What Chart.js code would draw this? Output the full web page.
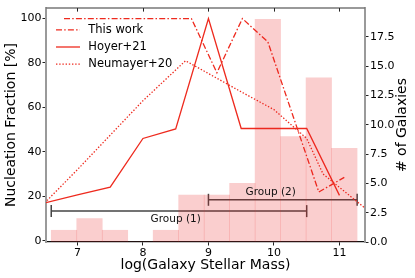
<!DOCTYPE html>
<html>
<head>
<meta charset="utf-8">
<script src="https://cdn.jsdelivr.net/npm/chart.js@4/dist/chart.umd.min.js"></script>
<style>
  html, body { margin: 0; padding: 0; background: #fff; }
</style>
</head>
<body>
<canvas id="chart" width="415" height="278"></canvas>
<script>
// histogram of galaxies (right axis), bins in log stellar mass
const binCenters = [6.795, 7.184, 7.573, 7.962, 8.351, 8.740, 9.129, 9.518, 9.907, 10.296, 10.685, 11.074];
const galaxyCounts = [1, 2, 1, 0, 1, 4, 4, 5, 19, 9, 14, 8];

// nucleation fractions [%]
const thisWork = [100, 100, 100, 100, 100, 100, 75.6, 100, 89.5, 55.7, 21.9, 28.5];

const hoyerMass = [6.5, 7.0, 7.5, 8.0, 8.5, 9.0, 9.5, 10.0, 10.5, 11.0];
const hoyerFrac = [17.0, 20.6, 24.1, 46.0, 50.3, 100, 50.5, 50.5, 50.5, 20.4];

const neumayerMass = [6.5, 7.0, 7.5, 8.0, 8.65, 9.5, 10.0, 10.5, 10.75, 11.5];
const neumayerFrac = [17, 32, 47.5, 63, 81, 67, 59, 46, 30, 12];

// mass ranges of the two groups
const groupNames = ['Group (1)', 'Group (2)'];
const groupLo = [6.6, 9.0];
const groupHi = [10.5, 11.27];
const groupLevel = [13.3, 18.4];
const groupLabelMass = [8.5, 9.95];

const massTicks = [7, 8, 9, 10, 11];
const fracTicks = [0, 20, 40, 60, 80, 100];
const countTicks = [0, 2.5, 5, 7.5, 10, 12.5, 15, 17.5];

const FONT = 'DejaVu Sans';
const red = '#ee2a1e';
const pts = (xs, ys) => xs.map((x, i) => ({ x: x, y: ys[i] }));

const lineSets = [
  { label: 'This work', data: pts(binCenters, thisWork), dash: [6, 2.2, 1.5, 2.2] },
  { label: 'Hoyer+21', data: pts(hoyerMass, hoyerFrac), dash: [] },
  { label: 'Neumayer+20', data: pts(neumayerMass, neumayerFrac), dash: [1.4, 1.8] },
];

const datasets = [{
  type: 'bar',
  label: '# of Galaxies',
  data: pts(binCenters, galaxyCounts),
  yAxisID: 'y2',
  backgroundColor: 'rgba(230,30,30,0.22)',
  borderWidth: 0,
  barPercentage: 1,
  categoryPercentage: 1,
  order: 0,
}];

lineSets.forEach(s => {
  datasets.push({
    type: 'line',
    label: s.label,
    data: s.data,
    yAxisID: 'y',
    borderColor: red,
    borderWidth: 1.3,
    borderDash: s.dash,
    pointRadius: 0,
    fill: false,
    tension: 0,
    order: 1,
  });
});

groupNames.forEach((g, i) => {
  datasets.push({
    type: 'line',
    label: g,
    data: [{ x: groupLo[i], y: groupLevel[i] }, { x: groupHi[i], y: groupLevel[i] }],
    yAxisID: 'y',
    borderColor: '#444',
    borderWidth: 1.5,
    pointStyle: 'line',
    pointRotation: 90,
    pointRadius: 6,
    pointBorderColor: '#444',
    pointBorderWidth: 1.5,
    fill: false,
    order: 2,
  });
});

const extras = {
  id: 'extras',
  afterDatasetsDraw(chart) {
    const { ctx, chartArea: ca, scales } = chart;
    const x = scales.x, y = scales.y;
    ctx.save();

    // top spine with inward ticks
    ctx.strokeStyle = '#777';
    ctx.lineWidth = 1.5;
    ctx.beginPath();
    ctx.moveTo(ca.left, ca.top);
    ctx.lineTo(ca.right, ca.top);
    ctx.stroke();
    ctx.strokeStyle = '#222';
    ctx.lineWidth = 1;
    massTicks.forEach(t => {
      const px = Math.round(x.getPixelForValue(t)) + 0.5;
      ctx.beginPath();
      ctx.moveTo(px, ca.top);
      ctx.lineTo(px, ca.top + 3.5);
      ctx.stroke();
    });

    // group labels
    ctx.fillStyle = '#111';
    ctx.font = '10.5px "' + FONT + '"';
    ctx.textAlign = 'center';
    ctx.textBaseline = 'middle';
    groupNames.forEach((g, i) => {
      const off = i === 0 ? 8 : -7.6;
      ctx.fillText(g, x.getPixelForValue(groupLabelMass[i]), y.getPixelForValue(groupLevel[i]) + off);
    });

    // legend
    ctx.font = '11.5px "' + FONT + '"';
    ctx.textAlign = 'left';
    lineSets.forEach((s, i) => {
      const ry = ca.top + 21.7 + i * 17.2;
      ctx.strokeStyle = red;
      ctx.lineWidth = 1.3;
      ctx.setLineDash(s.dash);
      ctx.beginPath();
      ctx.moveTo(ca.left + 10, ry);
      ctx.lineTo(ca.left + 34, ry);
      ctx.stroke();
      ctx.setLineDash([]);
      ctx.fillStyle = '#000';
      ctx.fillText(s.label, ca.left + 42.3, ry);
    });

    // right axis title, reading bottom to top
    ctx.font = '14px "' + FONT + '"';
    ctx.textAlign = 'center';
    ctx.translate(402, (ca.top + ca.bottom) / 2);
    ctx.rotate(-Math.PI / 2);
    ctx.fillText('# of Galaxies', 0, 0);
    ctx.restore();
  }
};

const tickFont = { family: FONT, size: 11 };
const tickMarks = { display: true, drawOnChartArea: false, drawTicks: true, tickLength: 3.5, color: '#222', offset: false };

new Chart(document.getElementById('chart'), {
  type: 'line',
  data: { datasets: datasets },
  options: {
    responsive: false,
    animation: false,
    devicePixelRatio: 1,
    layout: { padding: { top: 5, left: 0, right: 0, bottom: 0 } },
    plugins: { legend: { display: false }, tooltip: { enabled: false } },
    scales: {
      x: {
        type: 'linear',
        min: 6.52,
        max: 11.39,
        offset: false,
        afterBuildTicks: s => { s.ticks = massTicks.map(v => ({ value: v })); },
        afterFit: s => { s.height = 36; },
        ticks: { font: tickFont, color: '#000', padding: 1.5, maxRotation: 0, callback: v => String(v) },
        grid: tickMarks,
        border: { display: true, color: '#111', width: 1.3 },
        title: { display: true, text: 'log(Galaxy Stellar Mass)', color: '#000', font: { family: FONT, size: 14 }, padding: { top: 4, bottom: 4.6 } },
      },
      y: {
        type: 'linear',
        position: 'left',
        min: -0.6,
        max: 104.7,
        afterBuildTicks: s => { s.ticks = fracTicks.map(v => ({ value: v })); },
        afterFit: s => { s.width = 46; },
        ticks: { font: tickFont, color: '#000', padding: 1 },
        grid: tickMarks,
        border: { display: true, color: '#9a9a9a', width: 2 },
        title: { display: true, text: 'Nucleation Fraction [%]', color: '#000', font: { family: FONT, size: 14 }, padding: { top: 3.3, bottom: 0 } },
      },
      y2: {
        type: 'linear',
        position: 'right',
        min: 0,
        max: 19.95,
        afterBuildTicks: s => { s.ticks = countTicks.map(v => ({ value: v })); },
        afterFit: s => { s.width = 50; },
        ticks: { font: tickFont, color: '#000', padding: 1.5, callback: v => v.toFixed(1) },
        grid: tickMarks,
        border: { display: true, color: '#9a9a9a', width: 2 },
      },
    },
  },
  plugins: [extras],
});
</script>
</body>
</html>
